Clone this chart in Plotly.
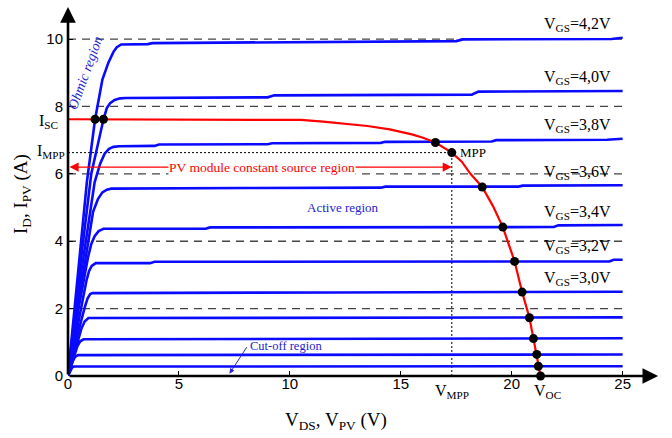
import plotly.graph_objects as go

# ---------------- data ----------------
x_ticks = [0, 5, 10, 15, 20, 25]
y_ticks = [0, 2, 4, 6, 8, 10]
grid_levels = [2, 4, 6, 8, 10]

# MOSFET output curves (V_DS, I_D)
vds_42 = [0, 0.4, 0.85, 1.22, 1.55, 1.82, 2.05, 2.2, 2.4, 3.6, 3.8, 17.5, 17.8, 24.5, 25]
id_42 = [0, 2.8, 5.75, 7.62, 8.8, 9.3, 9.62, 9.76, 9.84, 9.85, 9.88, 9.94, 9.99, 10.0, 10.04]
vds_40 = [0, 0.5, 1.05, 1.6, 1.75, 1.9, 2.1, 2.35, 2.6, 9.0, 9.3, 18.2, 18.5, 25]
id_40 = [0, 3.0, 6.0, 7.62, 7.95, 8.1, 8.19, 8.24, 8.25, 8.27, 8.33, 8.35, 8.44, 8.46]
vds_38 = [0, 0.6, 1.2, 1.45, 1.65, 1.85, 2.05, 2.3, 3.9, 4.1, 9.0, 9.2, 14.1, 14.3, 19.1, 19.3, 24.3, 25]
id_38 = [0, 3.1, 5.75, 6.3, 6.6, 6.74, 6.8, 6.82, 6.83, 6.87, 6.88, 6.91, 6.92, 6.95, 6.96, 7.0, 7.01, 7.04]
vds_36 = [0, 0.6, 1.13, 1.35, 1.55, 1.75, 1.95, 7.8, 8.0, 14.1, 14.3, 20.3, 20.5, 25]
id_36 = [0, 2.7, 4.87, 5.25, 5.45, 5.53, 5.56, 5.56, 5.58, 5.59, 5.62, 5.62, 5.65, 5.66]
vds_34 = [0, 0.5, 0.9, 1.05, 1.2, 1.38, 1.6, 6.2, 6.4, 21.9, 22.1, 25]
id_34 = [0, 2.1, 3.52, 3.92, 4.15, 4.3, 4.37, 4.37, 4.41, 4.42, 4.47, 4.48]
vds_32 = [0, 0.45, 0.83, 0.95, 1.07, 1.25, 3.7, 3.9, 24.4, 24.6, 25]
id_32 = [0, 1.6, 2.83, 3.12, 3.27, 3.35, 3.35, 3.39, 3.40, 3.45, 3.45]
vds_30 = [0, 0.4, 0.75, 0.88, 1.0, 1.1, 12, 25]
id_30 = [0, 1.15, 2.03, 2.3, 2.43, 2.46, 2.48, 2.50]
vds_c5 = [0, 0.35, 0.6, 0.75, 0.92, 25]
id_c5 = [0, 0.85, 1.4, 1.62, 1.72, 1.74]
vds_c6 = [0, 0.25, 0.42, 0.55, 0.7, 25]
id_c6 = [0, 0.55, 0.88, 1.03, 1.09, 1.12]
vds_c7 = [0, 0.2, 0.32, 0.45, 25]
id_c7 = [0, 0.43, 0.57, 0.62, 0.64]
vds_c8 = [0, 0.1, 0.18, 0.26, 25]
id_c8 = [0, 0.17, 0.25, 0.28, 0.29]

labelled_curves = [
    ("4,2", vds_42, id_42), ("4,0", vds_40, id_40), ("3,8", vds_38, id_38),
    ("3,6", vds_36, id_36), ("3,4", vds_34, id_34), ("3,2", vds_32, id_32),
    ("3,0", vds_30, id_30),
]
other_curves = [(vds_c5, id_c5), (vds_c6, id_c6), (vds_c7, id_c7), (vds_c8, id_c8)]

# PV module I-V curve
pv_v = [0, 6, 10.5, 11.5, 12.5, 13.5, 14.5, 15.5, 16.0, 16.56, 17.3, 17.75, 18.14, 18.67,
        19.15, 19.6, 20.13, 20.47, 20.8, 20.98, 21.13, 21.2, 21.3]
pv_i = [7.62, 7.62, 7.6, 7.55, 7.49, 7.42, 7.32, 7.17, 7.07, 6.93, 6.63, 6.36, 6.0, 5.61,
        5.05, 4.42, 3.40, 2.49, 1.73, 1.11, 0.64, 0.29, 0.0]

# operating points (intersections)
op_v = [1.22, 1.6, 16.56, 17.3, 18.67, 19.6, 20.13, 20.47, 20.8, 20.98, 21.13, 21.2, 21.3]
op_i = [7.62, 7.62, 6.93, 6.63, 5.61, 4.42, 3.40, 2.49, 1.73, 1.11, 0.64, 0.29, 0.0]

v_mpp, i_mpp, i_sc, v_oc = 17.3, 6.63, 7.62, 21.3
source_arrow_level = 6.2

# ---------------- styling ----------------
SERIF = "Liberation Serif, Times New Roman, serif"
SANS = "Liberation Sans, Arial, sans-serif"
BLUE = "#0a0aff"
TXTBLUE = "#2424d0"

fig = go.Figure()

for _, vx, iy in labelled_curves:
    fig.add_trace(go.Scatter(x=vx, y=iy, mode="lines",
                             line=dict(color=BLUE, width=2.6),
                             hoverinfo="skip", showlegend=False))
for vx, iy in other_curves:
    fig.add_trace(go.Scatter(x=vx, y=iy, mode="lines",
                             line=dict(color=BLUE, width=2.6),
                             hoverinfo="skip", showlegend=False))

fig.add_trace(go.Scatter(x=pv_v, y=pv_i, mode="lines",
                         line=dict(color="#ff0000", width=2.2),
                         hoverinfo="skip", showlegend=False))
fig.add_trace(go.Scatter(x=op_v, y=op_i, mode="markers",
                         marker=dict(color="black", size=9),
                         hoverinfo="skip", showlegend=False, cliponaxis=False))

shapes = []
for lv in grid_levels:
    shapes.append(dict(type="line", x0=0, x1=25, y0=lv, y1=lv, xref="x", yref="y",
                       line=dict(color="#444444", width=1.3, dash="8px,6px"), layer="below"))
# MPP dotted guides
shapes.append(dict(type="line", x0=0, x1=v_mpp, y0=i_mpp, y1=i_mpp,
                   line=dict(color="black", width=1, dash="2px,2px"), layer="below"))
shapes.append(dict(type="line", x0=v_mpp, x1=v_mpp, y0=0, y1=i_mpp,
                   line=dict(color="black", width=1, dash="2px,2px"), layer="below"))

ann = []
# axes with arrows
ann.append(dict(x=26.6, y=0, ax=0, ay=0, xref="x", yref="y", axref="x", ayref="y",
                text="", showarrow=True, arrowhead=2, arrowsize=1.2, arrowwidth=2.6,
                arrowcolor="black", standoff=0, startstandoff=0))
ann.append(dict(x=0, y=10.95, ax=0, ay=0, xref="x", yref="y", axref="x", ayref="y",
                text="", showarrow=True, arrowhead=2, arrowsize=1.2, arrowwidth=2.6,
                arrowcolor="black", standoff=0, startstandoff=0))

# V_GS labels
for lab, vx, iy in labelled_curves:
    ann.append(dict(x=21.35, y=iy[-1], xref="x", yref="y", xanchor="left", yanchor="middle",
                    yshift=13, showarrow=False,
                    text="V<sub>GS</sub>=%sV" % lab,
                    font=dict(family=SERIF, size=16, color="black")))

# PV constant source region double arrow
ann.append(dict(x=v_mpp, y=source_arrow_level, ax=0, ay=source_arrow_level,
                xref="x", yref="y", axref="x", ayref="y", text="", showarrow=True,
                arrowhead=2, startarrowhead=2, arrowside="end+start", arrowsize=1.3,
                startarrowsize=1.3, arrowwidth=1.4, arrowcolor="#ff0000",
                standoff=0, startstandoff=0))
ann.append(dict(x=8.75, y=source_arrow_level, xref="x", yref="y", showarrow=False,
                text="PV module constant source region", bgcolor="white", borderpad=0,
                font=dict(family=SERIF, size=13.5, color="#ff0000")))

# MPP label
ann.append(dict(x=v_mpp, y=i_mpp, xref="x", yref="y", xanchor="left", yanchor="middle",
                xshift=6, showarrow=False, text="MPP",
                font=dict(family=SERIF, size=13, color="black")))

# region labels
ann.append(dict(x=0.8, y=9.0, xref="x", yref="y", showarrow=False, textangle=-70,
                text="<i>Ohmic region</i>", font=dict(family=SERIF, size=14, color=TXTBLUE)))
ann.append(dict(x=12.4, y=5.0, xref="x", yref="y", showarrow=False,
                text="Active region", font=dict(family=SERIF, size=13, color=TXTBLUE)))
ann.append(dict(x=8.1, y=0.9, xref="x", yref="y", xanchor="left", yanchor="middle",
                showarrow=False, text="Cut-off region",
                font=dict(family=SERIF, size=12.5, color=TXTBLUE)))
ann.append(dict(x=7.28, y=0.07, ax=8.1, ay=0.9, xref="x", yref="y", axref="x", ayref="y",
                text="", showarrow=True, arrowhead=2, arrowsize=1.0, arrowwidth=1,
                arrowcolor=TXTBLUE, standoff=0, startstandoff=0))

# special axis labels
ann.append(dict(x=0, y=i_sc, xref="x", yref="y", xanchor="right", yanchor="middle",
                xshift=-8, yshift=-2, showarrow=False, text="I<sub>SC</sub>",
                font=dict(family=SERIF, size=16, color="black")))
ann.append(dict(x=0, y=i_mpp, xref="x", yref="y", xanchor="right", yanchor="middle",
                xshift=-1, yshift=1, showarrow=False, text="I<sub>MPP</sub>",
                font=dict(family=SERIF, size=16, color="black")))
ann.append(dict(x=v_mpp, y=0, xref="x", yref="y", xanchor="center", yanchor="top",
                yshift=-4, showarrow=False, text="V<sub>MPP</sub>",
                font=dict(family=SERIF, size=16, color="black")))
ann.append(dict(x=v_oc + 0.3, y=0, xref="x", yref="y", xanchor="center", yanchor="top",
                yshift=-4, showarrow=False, text="V<sub>OC</sub>",
                font=dict(family=SERIF, size=16, color="black")))

# axis titles
ann.append(dict(x=12.1, y=0, xref="x", yref="y", yshift=-45, showarrow=False,
                text="V<sub>DS</sub>, V<sub>PV</sub> (V)",
                font=dict(family=SERIF, size=19, color="black")))
ann.append(dict(x=0, y=5.4, xref="x", yref="y", xshift=-46, showarrow=False, textangle=-90,
                text="I<sub>D</sub>, I<sub>PV</sub> (A)",
                font=dict(family=SERIF, size=19, color="black")))

fig.update_layout(
    width=672, height=438,
    margin=dict(l=68, r=5, t=2, b=62, autoexpand=False),
    plot_bgcolor="white", paper_bgcolor="white",
    shapes=shapes, annotations=ann,
    xaxis=dict(range=[0, 27], tickvals=x_ticks, ticks="inside", ticklen=5, tickwidth=1,
               tickcolor="black", showgrid=False, zeroline=False, showline=False,
               automargin=False, ticklabelstandoff=-3,
               tickfont=dict(family=SANS, size=15, color="black")),
    yaxis=dict(range=[0, 11.1], tickvals=y_ticks, ticks="inside", ticklen=5, tickwidth=1,
               tickcolor="black", showgrid=False, zeroline=False, showline=False,
               automargin=False, ticklabelstandoff=4,
               tickfont=dict(family=SANS, size=15, color="black")),
)

fig.write_html("out.html", config={"displayModeBar": False},
               post_script="document.body.style.margin='0';document.body.style.overflow='hidden';")
